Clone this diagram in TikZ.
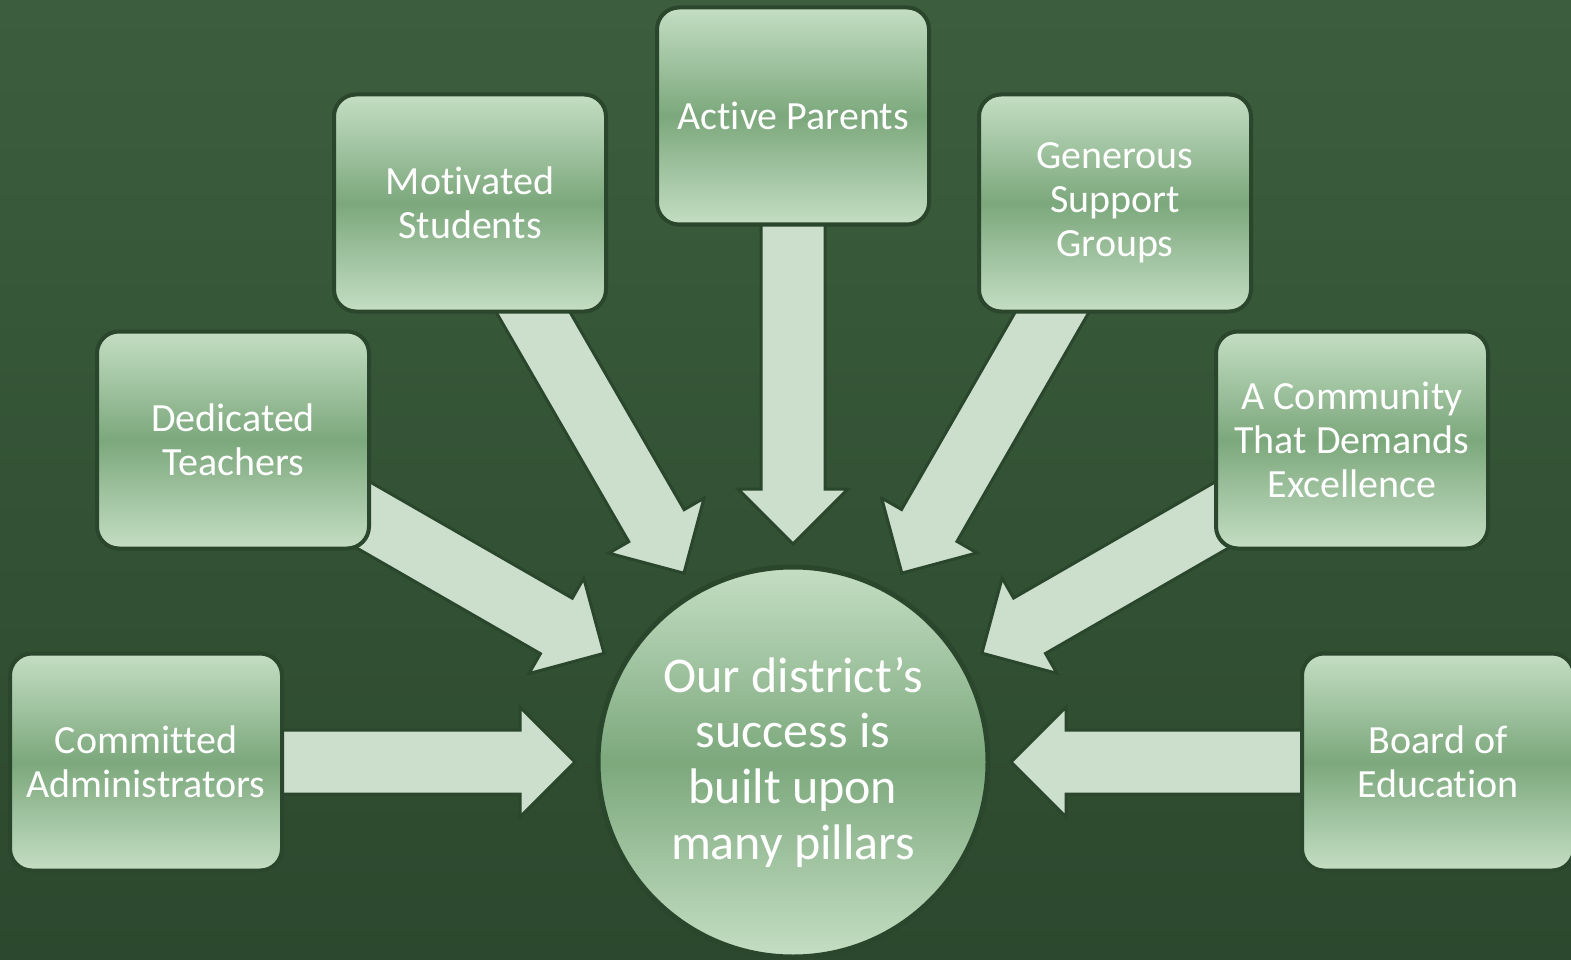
\documentclass[tikz,border=0pt]{standalone}
\usepackage{fontspec}
\setmainfont[Ligatures=NoCommon]{Carlito}
\usetikzlibrary{calc}
\definecolor{bgtop}{RGB}{60,94,62}
\definecolor{bgbot}{RGB}{44,72,46}
\definecolor{edge}{RGB}{42,70,44}
\definecolor{boxlight}{RGB}{196,222,196}
\definecolor{boxmid}{RGB}{124,168,124}
\definecolor{arrowfill}{RGB}{204,222,204}
\pgfdeclarelayer{bglayer}
\pgfdeclarelayer{arrowlayer}
\pgfsetlayers{bglayer,arrowlayer,main}
\tikzset{
  pillar/.style={rectangle, rounded corners=22pt, minimum width=272pt, minimum height=217pt,
    inner sep=0pt, align=center, text=white, font=\fontsize{40}{44}\selectfont,
    top color=boxlight, bottom color=boxlight, middle color=boxmid, draw=edge, line width=4pt},
  hubstyle/.style={circle, minimum size=390pt, inner sep=0pt, align=center, text=white,
    font=\fontsize{50}{55.6}\selectfont,
    top color=boxlight, bottom color=boxlight, middle color=boxmid, draw=edge, line width=5pt},
  blockarrow/.style={fill=arrowfill, draw=edge, line width=3pt, line join=miter}
}
\newcommand{\pillararrow}[1]{%
  \coordinate (T#1) at ($(hub.center)!218pt!(#1.center)$);
  \coordinate (B#1) at ($(hub.center)!273pt!(#1.center)$);
  \draw[blockarrow] ($(#1.center)!32pt!90:(T#1)$) -- ($(B#1)!32pt!90:(T#1)$)
    -- ($(B#1)!55pt!90:(T#1)$) -- (T#1) -- ($(B#1)!55pt!-90:(T#1)$)
    -- ($(B#1)!32pt!-90:(T#1)$) -- ($(#1.center)!32pt!-90:(T#1)$) -- cycle;
}
\begin{document}
\begin{tikzpicture}[x=1pt,y=-1pt]
\useasboundingbox (0,0) rectangle (1571,960);
\clip (0,0) rectangle (1571,960);
\begin{pgfonlayer}{bglayer}
  \fill[top color=bgtop, bottom color=bgbot] (0,0) rectangle (1571,960);
\end{pgfonlayer}

\node[hubstyle] (hub) at (793,762) {Our district’s\\success is\\built upon\\many pillars};

\node[pillar] (admin) at (146,762) {Committed\\Administrators};
\node[pillar] (teach) at (233,440) {Dedicated\\Teachers};
\node[pillar] (stud) at (470,203) {Motivated\\Students};
\node[pillar] (par) at (793,116) {Active Parents};
\node[pillar] (gen) at (1115,203) {Generous\\Support\\Groups};
\node[pillar] (comm) at (1352,440) {A Community\\That Demands\\Excellence};
\node[pillar] (board) at (1438,762) {Board of\\Education};

\begin{pgfonlayer}{arrowlayer}
  \pillararrow{admin}
  \pillararrow{teach}
  \pillararrow{stud}
  \pillararrow{par}
  \pillararrow{gen}
  \pillararrow{comm}
  \pillararrow{board}
\end{pgfonlayer}
\end{tikzpicture}
\end{document}
